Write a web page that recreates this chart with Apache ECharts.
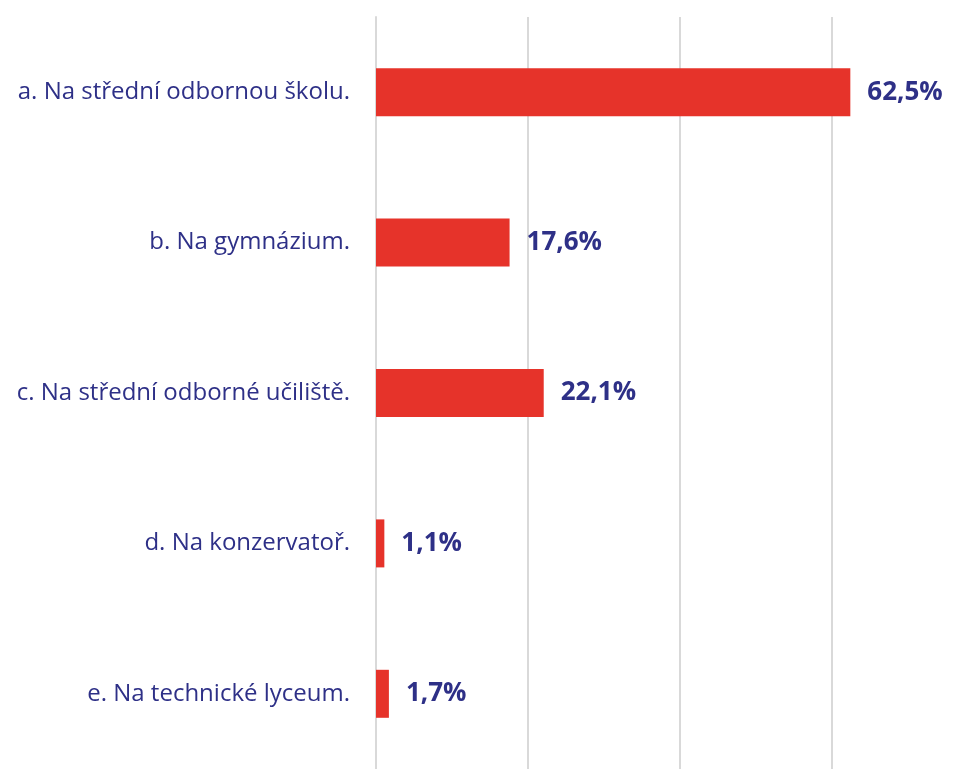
<!DOCTYPE html>
<html>
<head>
<meta charset="utf-8">
<script src="https://cdn.jsdelivr.net/npm/echarts@6/dist/echarts.min.js"></script>
<style>
  html, body { margin: 0; padding: 0; background: #fff; }
  #chart { width: 971px; height: 769px; }
</style>
</head>
<body>
<div id="chart"></div>
<script>
// kategorie odshora dolů
const categories = [
  'a. Na střední odbornou školu.',
  'b. Na gymnázium.',
  'c. Na střední odborné učiliště.',
  'd. Na konzervatoř.',
  'e. Na technické lyceum.'
]
const values = [62.5, 17.6, 22.1, 1.1, 1.7]

const navy = '#2e3087'

var myChart = echarts.init(document.getElementById('chart'))
var option = {
  animation: false,
  grid: {
    left: 376,
    right: 0,
    top: 17,
    bottom: -10,
    containLabel: false
  },
  xAxis: {
    type: 'value',
    min: 0,
    // osa pokračuje za pravý okraj obrázku
    max: 78.4,
    interval: 20,
    axisLabel: { show: false },
    axisLine: { show: false },
    axisTick: { show: false },
    splitLine: {
      showMaxLine: false,
      lineStyle: { color: '#d9d9d9', width: 2 }
    }
  },
  yAxis: {
    type: 'category',
    inverse: true,
    data: categories,
    axisTick: { show: false },
    axisLine: {
      show: true,
      lineStyle: { color: '#d9d9d9', width: 2 }
    },
    axisLabel: {
      margin: 26,
      color: navy,
      fontSize: 24,
      fontFamily: 'Open Sans'
    }
  },
  series: [
    {
      type: 'bar',
      data: values,
      barWidth: 48,
      silent: true,
      itemStyle: { color: '#e6332a' },
      label: {
        show: true,
        position: 'right',
        distance: 17,
        color: navy,
        fontSize: 26,
        fontWeight: 'bold',
        fontFamily: 'Open Sans',
        formatter: function (p) {
          return p.value.toFixed(1).replace('.', ',') + '%'
        }
      }
    }
  ]
}
option && myChart.setOption(option)
</script>
</body>
</html>
